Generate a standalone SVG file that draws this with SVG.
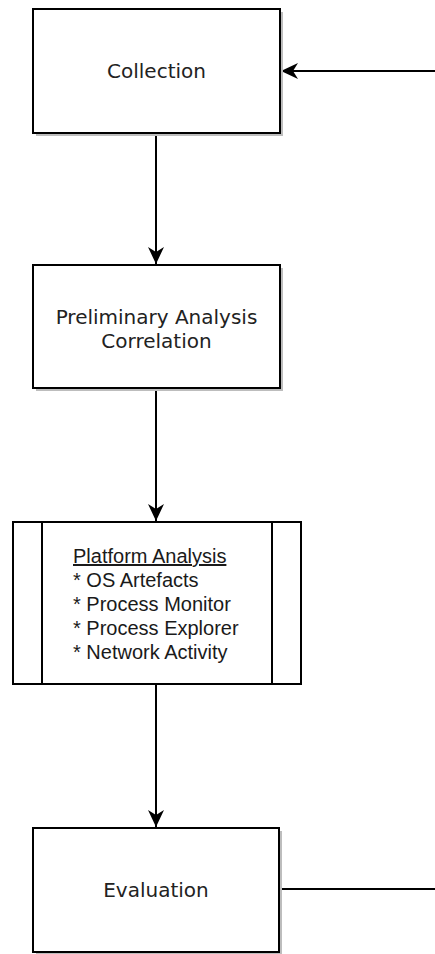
<svg xmlns="http://www.w3.org/2000/svg" width="435" height="954" viewBox="0 0 435 954">
  <style>
    .box { fill: #ffffff; stroke: #000000; stroke-width: 2; }
    .shadow { fill: #bdbdbd; }
    .edge { fill: none; stroke: #000000; stroke-width: 2; }
    .label { font-family: "DejaVu Sans", Verdana, sans-serif; font-size: 20px; fill: #222222; text-anchor: middle; }
    .list { font-family: "Liberation Sans", Arial, Helvetica, sans-serif; font-size: 20px; fill: #1a1a1a; }
  </style>
  <defs>
    <!-- classic arrowhead with a notched back -->
    <marker id="arrow" viewBox="0 0 18 16" refX="17" refY="8" markerWidth="18" markerHeight="16" markerUnits="userSpaceOnUse" orient="auto">
      <path d="M17,8 L0,0 L5,8 L0,16 Z" fill="#000000"/>
    </marker>
  </defs>

  <rect width="435" height="954" fill="#ffffff"/>

  <g id="edges">
    <!-- feedback line into Collection -->
    <path class="edge" d="M435,71 L281,71" marker-end="url(#arrow)"/>
    <path class="edge" d="M156,133 L156,264" marker-end="url(#arrow)"/>
    <path class="edge" d="M156,388 L156,521" marker-end="url(#arrow)"/>
    <path class="edge" d="M156,684 L156,827" marker-end="url(#arrow)"/>
    <!-- Evaluation loops back to the right edge -->
    <path class="edge" d="M279,889 L435,889"/>
  </g>

  <g id="collection">
    <rect class="shadow" x="36" y="12" width="247" height="124"/>
    <rect class="box" x="33" y="9" width="247" height="124"/>
    <text class="label" x="156.5" y="78">Collection</text>
  </g>

  <g id="preliminary-analysis">
    <rect class="shadow" x="36" y="268" width="247" height="123"/>
    <rect class="box" x="33" y="265" width="247" height="123"/>
    <text class="label" x="156.5" y="324">Preliminary Analysis</text>
    <text class="label" x="156.5" y="348">Correlation</text>
  </g>

  <g id="platform-analysis">
    <rect class="box" x="13" y="522" width="288" height="162"/>
    <line class="edge" x1="42" y1="522" x2="42" y2="684"/>
    <line class="edge" x1="272" y1="522" x2="272" y2="684"/>
    <text class="list" x="73" y="563" text-decoration="underline">Platform Analysis</text>
    <text class="list" x="73" y="587">* OS Artefacts</text>
    <text class="list" x="73" y="611">* Process Monitor</text>
    <text class="list" x="73" y="635">* Process Explorer</text>
    <text class="list" x="73" y="659">* Network Activity</text>
  </g>

  <g id="evaluation">
    <rect class="shadow" x="36" y="831" width="246" height="124"/>
    <rect class="box" x="33" y="828" width="246" height="124"/>
    <text class="label" x="156" y="897">Evaluation</text>
  </g>
</svg>
